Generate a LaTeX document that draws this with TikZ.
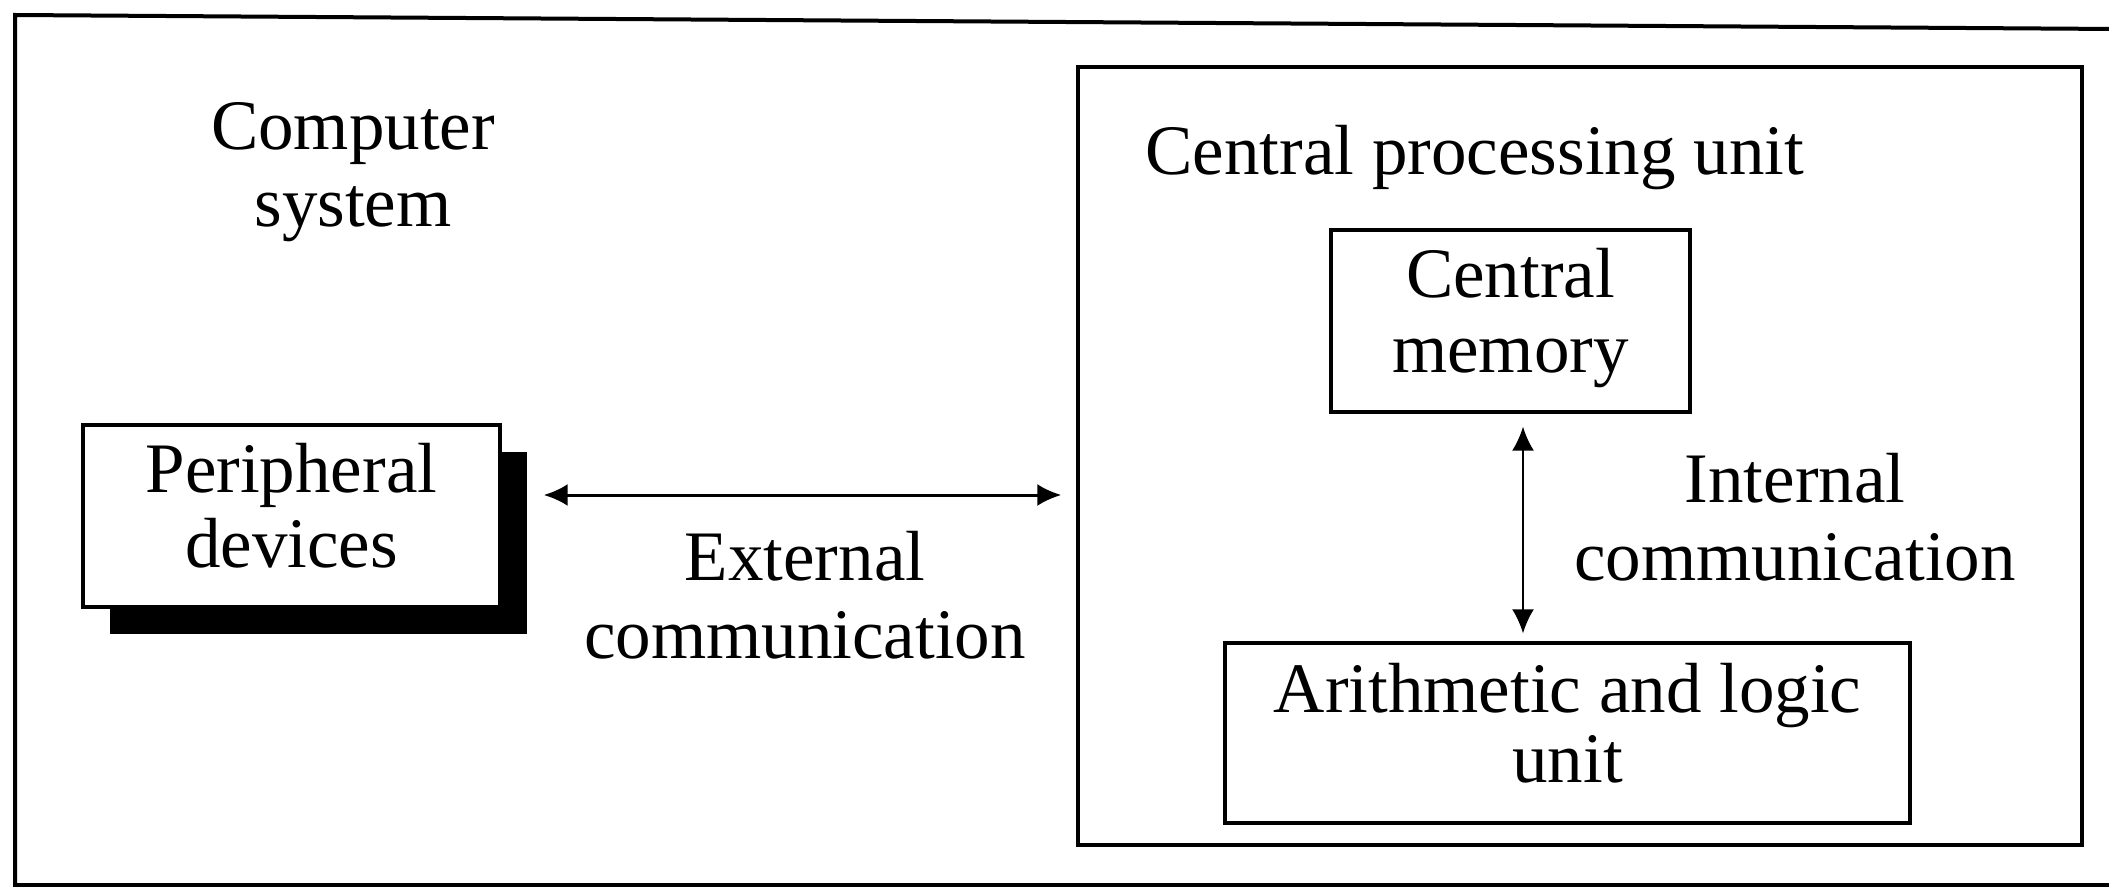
\documentclass[tikz,border=0pt]{standalone}
\usepackage{fontspec}
\setmainfont{Liberation Serif}
\usetikzlibrary{arrows.meta,calc,shadows}
% zero-width strut that deepens the last line of a box label
\newcommand{\lowstrut}{\rule[-10.5pt]{0pt}{10.5pt}}
\begin{document}
\begin{tikzpicture}[x=0.5pt,y=-0.5pt,
  txt/.style={font=\fontsize{35.5}{39}\selectfont, align=center, inner sep=0pt},
  unitbox/.style={draw, line width=1.7pt, fill=white, inner sep=0pt,
    align=center, font=\fontsize{35.5}{37.5}\selectfont},
  link/.style={<->, >={Latex[length=12pt,width=11pt]}},
]
\fill[white] (0,0) rectangle (2109,887);
\useasboundingbox (0,0) rectangle (2109,887);
\clip (0,0) rectangle (2109,887);

% outer frame of the computer system
\draw[line width=2pt] (2115,29) -- (15,15) -- (15,885) -- (2115,885);

\node[txt, font=\fontsize{35.5}{38.5}\selectfont] (sys) at (353,172) {Computer\\system};

% peripheral devices with a solid drop shadow
\node[unitbox, minimum width=208.5pt, minimum height=91pt,
  drop shadow={shadow xshift=13.5pt, shadow yshift=-13.5pt, fill=black, opacity=1}]
  (per) at (291.5,516) {Peripheral\\devices\lowstrut};

% central processing unit and its parts
\node[unitbox, minimum width=502pt, minimum height=389pt] (cpu) at (1580,456) {};
\node[txt, anchor=base west] (cputitle) at (1145,175) {Central processing unit};

\node[unitbox, minimum width=179.5pt, minimum height=91pt] (cm) at (1510.5,321)
  {Central\\memory\lowstrut};
\node[unitbox, minimum width=342.5pt, minimum height=90pt,
  font=\fontsize{35.5}{35}\selectfont] (alu) at (1567.5,733)
  {Arithmetic and logic\\unit\lowstrut};

% communication links
\draw[link, line width=1.5pt] ($(per.east)+(42,-21)$) -- ($(cpu.west |- per.east)+(-15,-21)$);
\node[txt] (ext) at (805,595) {External\\communication};

\draw[link, line width=1pt] ($(cm.south)+(12.5,13)$) -- ($(cm.south |- alu.north)+(12.5,-8)$);
\node[txt] (int) at (1795,517) {Internal\\communication};
\end{tikzpicture}
\end{document}
